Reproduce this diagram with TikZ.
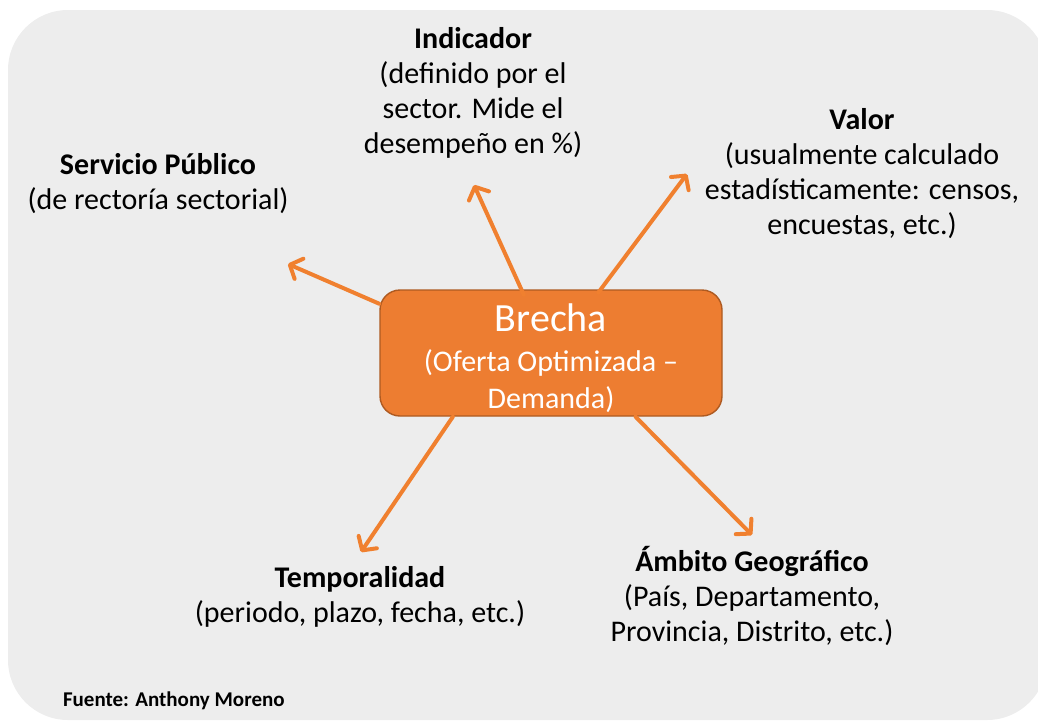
\documentclass[tikz,border=0pt]{standalone}
\usepackage{fontspec}
\setmainfont{Carlito}
\usepackage{tikz}
\usetikzlibrary{arrows.meta}
\definecolor{bgGray}{HTML}{EDEDED}
\definecolor{gapOrange}{HTML}{ED7D31}
\definecolor{gapBorder}{HTML}{AE5A21}
\definecolor{arrowOrange}{HTML}{F0802F}

\begin{document}
\begin{tikzpicture}[x=0.5pt,y=-0.5pt]
	\tikzstyle{gapbox} = [rectangle, rounded corners=10pt, minimum width=171pt, 
	minimum height=63pt, inner ysep=0pt, text centered, align=center, text=white, 
	fill=gapOrange, draw=gapBorder, line width=0.7pt, font=\fontsize{15}{18.5}\selectfont]
	\tikzstyle{info} = [align=center, text=black, font=\fontsize{15}{17.5}\selectfont]
	\tikzstyle{arrow} = [arrowOrange, line width=2pt, line cap=round, 
	-{Straight Barb[length=5pt,width=11pt,round]}]
	\useasboundingbox (0,0) rectangle (1038,723);
	\fill [bgGray, rounded corners=30pt] (8,10) rectangle (1047,720);
	\node (brecha) [gapbox] at (551,353) {{\fontsize{20}{22}\selectfont\rule{0pt}{19pt}Brecha}\\[1.5pt]
		(Oferta Optimizada --\\Demanda)};
	\node (servicio) [info] at (158,184) {\textbf{Servicio Público}\\(de rectoría sectorial)};
	\node (indicador) [info] at (473,93) {\textbf{Indicador}\\(definido por el\\sector. Mide el\\desempeño en \%)};
	\node (valor) [info] at (862,174) {\textbf{Valor}\\(usualmente calculado\\estadísticamente: censos,\\encuestas, etc.)};
	\node (temporalidad) [info] at (360,597) {\textbf{Temporalidad}\\(periodo, plazo, fecha, etc.)};
	\node (ambito) [info] at (752,596) {\textbf{Ámbito Geográfico}\\(País, Departamento,\\Provincia, Distrito, etc.)};
	\node (fuente) [anchor=west, font=\fontsize{10.5}{12}\selectfont\bfseries] at (56,701) {Fuente: Anthony Moreno};
	% arrow tips
	\coordinate (toServicio) at (288,264);
	\coordinate (toIndicador) at (474,185);
	\coordinate (toValor) at (687,174);
	\coordinate (toTemporalidad) at (361,552);
	\coordinate (toAmbito) at (752,535);
	\draw [arrow] (brecha.164) -- (toServicio);
	\draw [arrow, shorten <=-3pt] (brecha.115) -- (toIndicador);
	\draw [arrow, shorten <=-2pt] (brecha.52) -- (toValor);
	\draw [arrow] (brecha.213) -- (toTemporalidad);
	\draw [arrow] (brecha.-37) -- (toAmbito);
\end{tikzpicture}
\end{document}
